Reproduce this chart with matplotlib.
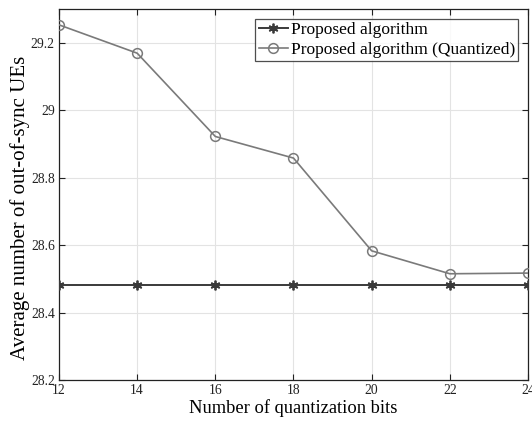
import matplotlib
matplotlib.use("Agg")
import matplotlib.pyplot as plt

bits = [12, 14, 16, 18, 20, 22, 24]
proposed = [28.481, 28.481, 28.481, 28.481, 28.481, 28.481, 28.481]
quantized = [29.253, 29.169, 28.922, 28.858, 28.583, 28.515, 28.517]
yticks = [28.2, 28.4, 28.6, 28.8, 29.0, 29.2]
ytick_labels = ["28.2", "28.4", "28.6", "28.8", "29", "29.2"]

plt.rcParams['font.family'] = ['Liberation Serif', 'DejaVu Serif']

fig = plt.figure(figsize=(5.32, 4.21), dpi=100)
ax = fig.add_axes([59/532, 1 - 380/421, (528-59)/532, (380-9)/421])

ax.plot(bits, proposed, color='#3a3a3a', lw=1.4, marker=(6, 2, 0), ms=7,
        markeredgewidth=1.3, markeredgecolor='#3a3a3a',
        label='Proposed algorithm', zorder=3)
ax.plot(bits, quantized, color='#7a7a7a', lw=1.2, marker='o', ms=7,
        markerfacecolor='none', markeredgecolor='#7a7a7a', markeredgewidth=1.1,
        label='Proposed algorithm (Quantized)', zorder=3)

ax.set_xlim(12, 24)
ax.set_ylim(28.2, 29.3)
ax.set_xticks(bits)
ax.set_xticklabels([str(b) for b in bits])
ax.set_yticks(yticks)
ax.set_yticklabels(ytick_labels)
ax.tick_params(direction='in', top=True, right=True, labelsize=9.8, length=4, width=0.8,
               colors='#222222', pad=3)
ax.grid(True, color='#e3e3e3', lw=0.8)
ax.set_axisbelow(True)
for s in ax.spines.values():
    s.set_color('#222222')
    s.set_linewidth(0.9)

ax.set_xlabel('Number of quantization bits', fontsize=13.3)
ax.xaxis.set_label_coords(0.5, -0.052)
ax.set_ylabel('Average number of out-of-sync UEs', fontsize=15)
ax.yaxis.set_label_coords(-0.062, 0.464)

leg = ax.legend(loc='upper right', fontsize=12.5, frameon=True, fancybox=False,
                edgecolor='#222222', handlelength=1.7, handletextpad=0.15,
                borderpad=0.2, labelspacing=0.2, borderaxespad=0.55)
leg.get_frame().set_linewidth(0.9)

fig.savefig('out.png', dpi=100)
